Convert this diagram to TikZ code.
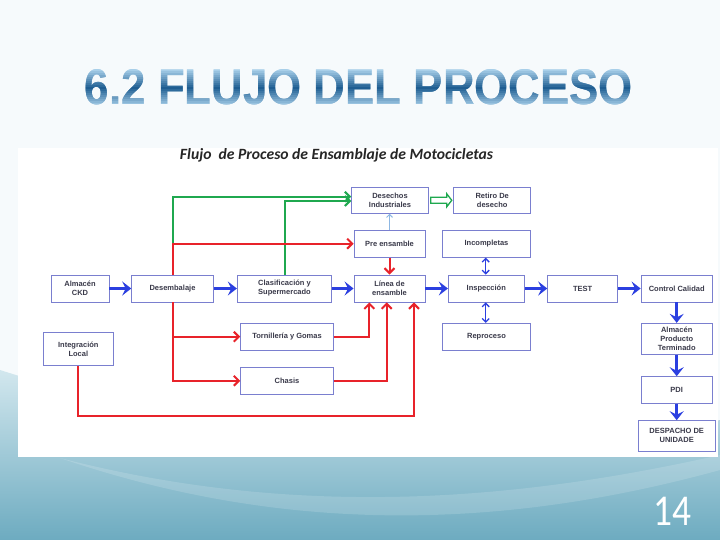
\documentclass[tikz,border=0pt]{standalone}
\usepackage{fontspec}
\setmainfont{Liberation Sans}
\newfontfamily\calib{Carlito}
\usetikzlibrary{arrows.meta,calc}
\definecolor{bx}{HTML}{7A7FCF}
\definecolor{bt}{HTML}{3A3A4A}
\definecolor{bl}{HTML}{2B3FE0}
\definecolor{rd}{HTML}{E8232A}
\definecolor{gr}{HTML}{1FA84F}
\definecolor{lb}{HTML}{8DB7E3}
\definecolor{tA}{HTML}{A9D0EA}
\definecolor{tC}{HTML}{1F5E92}
\definecolor{bgtop}{HTML}{F6FAFC}
\definecolor{wv1}{HTML}{D2E7EE}
\definecolor{wv2}{HTML}{6DABC0}
\begin{document}
\begin{tikzpicture}[x=1pt,y=-1pt,
  box/.style={draw=bx, line width=0.9pt, fill=white, inner sep=0pt, align=center,
    font=\fontsize{7.5}{9}\selectfont\bfseries, text=bt},
  barrow/.style={draw=bl, line width=3.5pt, -{Stealth[length=9pt,width=14pt,inset=3.5pt]}},
  rarrow/.style={draw=rd, line width=2pt, -{Straight Barb[length=5pt,width=10pt]}},
  garrow/.style={draw=gr, line width=2pt, -{Straight Barb[length=5pt,width=10pt]}},
  dbarrow/.style={draw=bl, line width=1.3pt, {Straight Barb[length=3.5pt,width=7pt]}-{Straight Barb[length=3.5pt,width=7pt]}},
  ttltext/.style={inner sep=0pt, font=\bfseries}
]
\useasboundingbox (0,0) rectangle (720,540);
% background
\fill[bgtop] (0,0) rectangle (720,540);
\shade[top color=wv1, bottom color=wv2] (0,370) .. controls (250,450) and (520,470) .. (720,420) -- (720,540) -- (0,540) -- cycle;
\fill[white, opacity=0.15] (60,458) .. controls (300,520) and (520,500) .. (720,455) -- (720,470) .. controls (520,525) and (300,540) .. (60,458) -- cycle;
% panel
\fill[white] (18,148) rectangle (718,457);

% title with vertical colour gradient (bands)
\foreach \yy in {66,68,...,108} {
  \pgfmathsetmacro\pp{max(0,min(100,100-abs(\yy+1-89)*5.5))}
  \begin{scope}
  \clip (0,\yy) rectangle (720,\yy+2.3);
  \node[ttltext, text=tC!\pp!tA] (tt\yy) at (359,87.5) {\resizebox{548pt}{35pt}{6.2 FLUJO DEL PROCESO}};
  \end{scope}
}

% subtitle
\node[inner sep=0pt, text=black!85] (sub) at (336.5,155.5) {\resizebox{313pt}{!}{\calib\bfseries\itshape Flujo\ \ de Proceso de Ensamblaje de Motocicletas}};

% page number
\node[inner sep=0pt, text=white] (num) at (672.5,511) {\scalebox{0.85}[1]{\calib\fontsize{44}{44}\selectfont 14}};

% boxes
\node[box, minimum width=58pt, minimum height=27pt] (ckd) at (80,288.5) {Almacén\\CKD};
\node[box, minimum width=81.6pt, minimum height=27pt] (des) at (172.5,288.5) {Desembalaje};
\node[box, minimum width=94.4pt, minimum height=27pt] (cla) at (284.5,288.5) {Clasificación y\\Supermercado};
\node[box, minimum width=71pt, minimum height=27pt] (lin) at (389.5,288.5) {Línea de\\ensamble};
\node[box, minimum width=76.6pt, minimum height=26pt] (dsh) at (390,200.3) {Desechos\\Industriales};
\node[box, minimum width=77pt, minimum height=26pt] (ret) at (492.2,200.3) {Retiro De\\desecho};
\node[box, minimum width=71pt, minimum height=27pt] (pre) at (389.5,243.7) {Pre ensamble};
\node[box, minimum width=88.4pt, minimum height=27pt] (inc) at (486.5,243.7) {Incompletas};
\node[box, minimum width=76pt, minimum height=27pt] (ins) at (486.3,288.5) {Inspección};
\node[box, minimum width=70pt, minimum height=27pt] (tst) at (582.7,288.5) {TEST};
\node[box, minimum width=71.3pt, minimum height=27pt] (cc) at (676.7,288.5) {Control Calidad};
\node[box, minimum width=92.6pt, minimum height=26.7pt] (tor) at (287,336.7) {Tornillería y Gomas};
\node[box, minimum width=92.6pt, minimum height=26.3pt] (cha) at (287,380.8) {Chasis};
\node[box, minimum width=70pt, minimum height=33pt] (itl) at (78.3,349.2) {Integración\\Local};
\node[box, minimum width=88.4pt, minimum height=26.7pt] (rep) at (486.5,336.7) {Reproceso};
\node[box, minimum width=70.6pt, minimum height=31pt] (apt) at (676.7,338.8) {Almacén\\Producto\\Terminado};
\node[box, minimum width=70.6pt, minimum height=26.6pt] (pdi) at (676.7,390) {PDI};
\node[box, minimum width=76.7pt, minimum height=30.3pt] (dsp) at (676.7,435.8) {DESPACHO DE\\UNIDADE};

% helper coordinates
\coordinate (gy1) at (0,196.7);
\coordinate (gy2) at (0,201);
\coordinate (l1) at (369.3,0);
\coordinate (l2) at (386.7,0);
\coordinate (l3) at (414,416);
\coordinate (ax) at (485.7,0);

% green flows to waste
\draw[garrow] (des.north) |- (dsh.west |- gy1);
\draw[garrow] (cla.north) |- (dsh.west |- gy2);
% red flows
\draw[rarrow] (des.north) |- (pre.west);
\draw[rarrow] (des.south) |- (tor.west);
\draw[rarrow] (des.south) |- (cha.west);
\draw[rarrow] (tor.east) -| (lin.south -| l1);
\draw[rarrow] (cha.east) -| (lin.south -| l2);
\draw[rarrow] (itl.south) |- (l3) -- (lin.south -| l3);
\draw[rarrow] (pre.south) -- (pre.south |- lin.north);
% light blue
\draw[draw=lb, line width=1pt, -{Straight Barb[length=3pt,width=6pt]}] (pre.north) -- (pre.north |- dsh.south);
% hollow green block arrow
\draw[draw=gr, line width=1.3pt, fill=white, line join=miter]
  ($(dsh.east)+(2,-3)$) -- ($(dsh.east)+(18,-3)$) -- ($(dsh.east)+(18,-6.5)$)
  -- ($(ret.west)+(-1.5,0)$) -- ($(dsh.east)+(18,6.5)$) -- ($(dsh.east)+(18,3)$)
  -- ($(dsh.east)+(2,3)$) -- cycle;

% blue main flow
\draw[barrow] (ckd) -- (des);
\draw[barrow] (des) -- (cla);
\draw[barrow] (cla) -- (lin);
\draw[barrow] (lin) -- (ins);
\draw[barrow] (ins) -- (tst);
\draw[barrow] (tst) -- (cc);
\draw[barrow] (cc.south) -- (cc.south |- apt.north);
\draw[barrow] (apt.south) -- (apt.south |- pdi.north);
\draw[barrow] (pdi.south) -- (pdi.south |- dsp.north);
% inspection loops
\draw[dbarrow] (inc.south -| ax) -- (ins.north -| ax);
\draw[dbarrow] (ins.south -| ax) -- (rep.north -| ax);
\end{tikzpicture}
\end{document}
